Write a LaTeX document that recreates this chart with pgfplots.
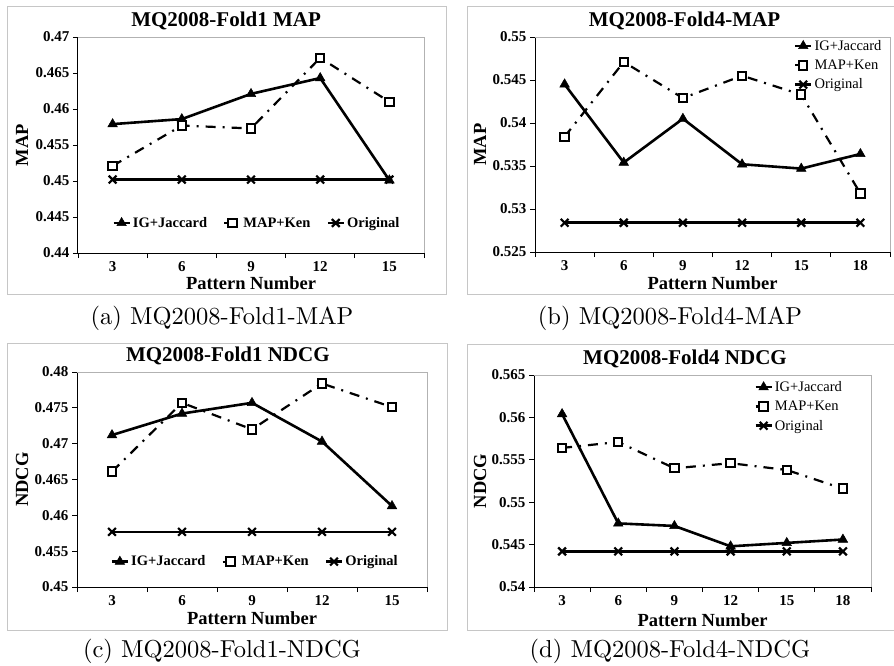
\documentclass[border=0pt]{standalone}
\usepackage{fontspec}
\usepackage{pgfplots}
\pgfplotsset{compat=1.18}
\newfontfamily\chartfont{Liberation Serif}
\newfontfamily\capfont[Extension=.otf]{lmroman10-regular}

\pgfplotsset{
 panel/.style={
  scale only axis,
  axis x line*=bottom, axis y line*=left,
  axis line style={black, line width=1pt, -},
  tick align=outside,
  major tick length=5pt, minor tick length=5pt,
  every major x tick/.append style={draw=none},
  every minor tick/.append style={black, line width=0.8pt},
  every major y tick/.append style={black, line width=0.8pt},
  scaled y ticks=false,
  /pgf/number format/assume math mode=true,
  yticklabel style={/pgf/number format/fixed, /pgf/number format/precision=3},
  tick label style={font=\chartfont\bfseries\fontsize{15}{16}\selectfont},
  label style={font=\chartfont\bfseries\fontsize{18.5}{21}\selectfont},
  title style={font=\chartfont\bfseries\fontsize{21}{24}\selectfont, anchor=base},
  legend cell align=left,
  legend image code/.code={\draw[mark repeat=2,mark phase=2,##1] plot coordinates {(0pt,0pt) (8pt,0pt) (16pt,0pt)};},
  clip=false,
 },
 ig/.style={black, line width=2.6pt, mark=triangle*, mark size=5.5pt, mark options={solid, fill=black, line width=0.5pt}},
 mk/.style={black, line width=2.2pt, dash pattern=on 10pt off 7pt on 2pt off 7pt, mark=square*, mark size=4.2pt, mark options={solid, fill=white, line width=2pt}},
 og/.style={black, line width=2.6pt, mark=x, mark size=5.5pt, mark options={solid, line width=2.2pt}},
 hleg/.style={legend columns=3, legend style={draw=none, fill=none, font=\chartfont\bfseries\fontsize{14.5}{16}\selectfont, /tikz/every even column/.append style={column sep=14pt}}},
 vleg/.style={legend style={draw=none, fill=none, font=\chartfont\fontsize{14.5}{17}\selectfont, row sep=4pt, inner sep=1pt}},
}

\begin{document}
\begin{tikzpicture}
\useasboundingbox (0pt,0pt) rectangle (894pt,-666pt);
% frames
\draw[gray!45, line width=1pt] (7pt,-7pt) rectangle (446pt,-294pt);
\draw[gray!45, line width=1pt] (467pt,-7pt) rectangle (900pt,-294pt);
\draw[gray!45, line width=1pt] (7pt,-343pt) rectangle (447pt,-630pt);
\draw[gray!45, line width=1pt] (467pt,-344pt) rectangle (900pt,-630pt);

% (a)
\begin{axis}[panel, hleg, at={(78pt,-253pt)}, anchor=south west, width=346pt, height=216pt,
  xmin=1.5, xmax=16.5, ymin=0.44, ymax=0.47,
  xtick={3,6,9,12,15}, minor xtick={1.5,4.5,7.5,10.5,13.5,16.5},
  ytick={0.44,0.445,0.45,0.455,0.46,0.465,0.47},
  title={MQ2008-Fold1 MAP}, title style={at={(0.428,1)}, yshift=5pt},
  xlabel={Pattern Number}, xlabel style={at={(axis description cs:0.5,-0.139)}, anchor=center},
  ylabel={MAP}, ylabel style={at={(axis description cs:-0.162,0.5)}, anchor=center},
  legend style={at={(0.517,0.139)}, anchor=center}]
\draw[gray!60, line width=0.8pt] (rel axis cs:0,1) -- (rel axis cs:1,1) -- (rel axis cs:1,0);
\addplot[ig] coordinates {(3,0.4579)(6,0.4586)(9,0.4621)(12,0.4643)(15,0.4501)};
\addplot[mk] coordinates {(3,0.4521)(6,0.4577)(9,0.4573)(12,0.4671)(15,0.4610)};
\addplot[og] coordinates {(3,0.4502)(6,0.4502)(9,0.4502)(12,0.4502)(15,0.4502)};
\legend{IG+Jaccard, MAP+Ken, Original}
\end{axis}

% (b)
\begin{axis}[panel, vleg, at={(535pt,-252pt)}, anchor=south west, width=355pt, height=215pt,
  xmin=1.5, xmax=19.5, ymin=0.525, ymax=0.55,
  xtick={3,6,9,12,15,18}, minor xtick={1.5,4.5,7.5,10.5,13.5,16.5,19.5},
  ytick={0.525,0.53,0.535,0.54,0.545,0.55},
  title={MQ2008-Fold4-MAP}, title style={at={(0.421,1)}, yshift=5pt},
  xlabel={Pattern Number}, xlabel style={at={(axis description cs:0.5,-0.144)}, anchor=center},
  ylabel={MAP}, ylabel style={at={(axis description cs:-0.155,0.5)}, anchor=center},
  legend style={at={(0.985,1.0)}, anchor=north east}]
\draw[gray!60, line width=0.8pt] (rel axis cs:0,1) -- (rel axis cs:1,1) -- (rel axis cs:1,0);
\addplot[ig] coordinates {(3,0.5445)(6,0.5354)(9,0.5405)(12,0.5352)(15,0.5347)(18,0.5364)};
\addplot[mk] coordinates {(3,0.5384)(6,0.5471)(9,0.5429)(12,0.5455)(15,0.5433)(18,0.5318)};
\addplot[og] coordinates {(3,0.5284)(6,0.5284)(9,0.5284)(12,0.5284)(15,0.5284)(18,0.5284)};
\legend{IG+Jaccard, MAP+Ken, Original}
\end{axis}

% (c)
\begin{axis}[panel, hleg, at={(77pt,-587pt)}, anchor=south west, width=350pt, height=215pt,
  xmin=1.5, xmax=16.5, ymin=0.45, ymax=0.48,
  xtick={3,6,9,12,15}, minor xtick={1.5,4.5,7.5,10.5,13.5,16.5},
  ytick={0.45,0.455,0.46,0.465,0.47,0.475,0.48},
  title={MQ2008-Fold1 NDCG}, title style={at={(0.431,1)}, yshift=5pt},
  xlabel={Pattern Number}, xlabel style={at={(axis description cs:0.5,-0.144)}, anchor=center},
  ylabel={NDCG}, ylabel style={at={(axis description cs:-0.157,0.5)}, anchor=center},
  legend style={at={(0.509,0.118)}, anchor=center}]
\draw[gray!60, line width=0.8pt] (rel axis cs:0,1) -- (rel axis cs:1,1) -- (rel axis cs:1,0);
\addplot[ig] coordinates {(3,0.4712)(6,0.4742)(9,0.4757)(12,0.4703)(15,0.4613)};
\addplot[mk] coordinates {(3,0.4661)(6,0.4757)(9,0.4720)(12,0.4784)(15,0.4751)};
\addplot[og] coordinates {(3,0.4577)(6,0.4577)(9,0.4577)(12,0.4577)(15,0.4577)};
\legend{IG+Jaccard, MAP+Ken, Original}
\end{axis}

% (d)
\begin{axis}[panel, vleg, at={(534pt,-587pt)}, anchor=south west, width=337pt, height=212pt,
  xmin=1.5, xmax=19.5, ymin=0.54, ymax=0.565,
  xtick={3,6,9,12,15,18}, minor xtick={1.5,4.5,7.5,10.5,13.5,16.5,19.5},
  ytick={0.54,0.545,0.55,0.555,0.56,0.565},
  title={MQ2008-Fold4 NDCG}, title style={at={(0.448,1)}, yshift=5pt},
  xlabel={Pattern Number}, xlabel style={at={(axis description cs:0.5,-0.156)}, anchor=center},
  ylabel={NDCG}, ylabel style={at={(axis description cs:-0.160,0.5)}, anchor=center},
  legend style={at={(0.923,0.985)}, anchor=north east}]
\draw[gray!60, line width=0.8pt] (rel axis cs:0,1) -- (rel axis cs:1,1) -- (rel axis cs:1,0);
\addplot[ig] coordinates {(3,0.5604)(6,0.5475)(9,0.5472)(12,0.5448)(15,0.5452)(18,0.5456)};
\addplot[mk] coordinates {(3,0.5564)(6,0.5571)(9,0.5540)(12,0.5546)(15,0.5538)(18,0.5516)};
\addplot[og] coordinates {(3,0.5442)(6,0.5442)(9,0.5442)(12,0.5442)(15,0.5442)(18,0.5442)};
\legend{IG+Jaccard, MAP+Ken, Original}
\end{axis}

% captions
\node[font=\capfont\fontsize{24.5}{28}\selectfont] at (222pt,-318pt) {(a) MQ2008-Fold1-MAP};
\node[font=\capfont\fontsize{24.5}{28}\selectfont] at (670pt,-318pt) {(b) MQ2008-Fold4-MAP};
\node[font=\capfont\fontsize{24.5}{28}\selectfont] at (222pt,-651pt) {(c) MQ2008-Fold1-NDCG};
\node[font=\capfont\fontsize{24.5}{28}\selectfont] at (670pt,-651pt) {(d) MQ2008-Fold4-NDCG};
\end{tikzpicture}
\end{document}
